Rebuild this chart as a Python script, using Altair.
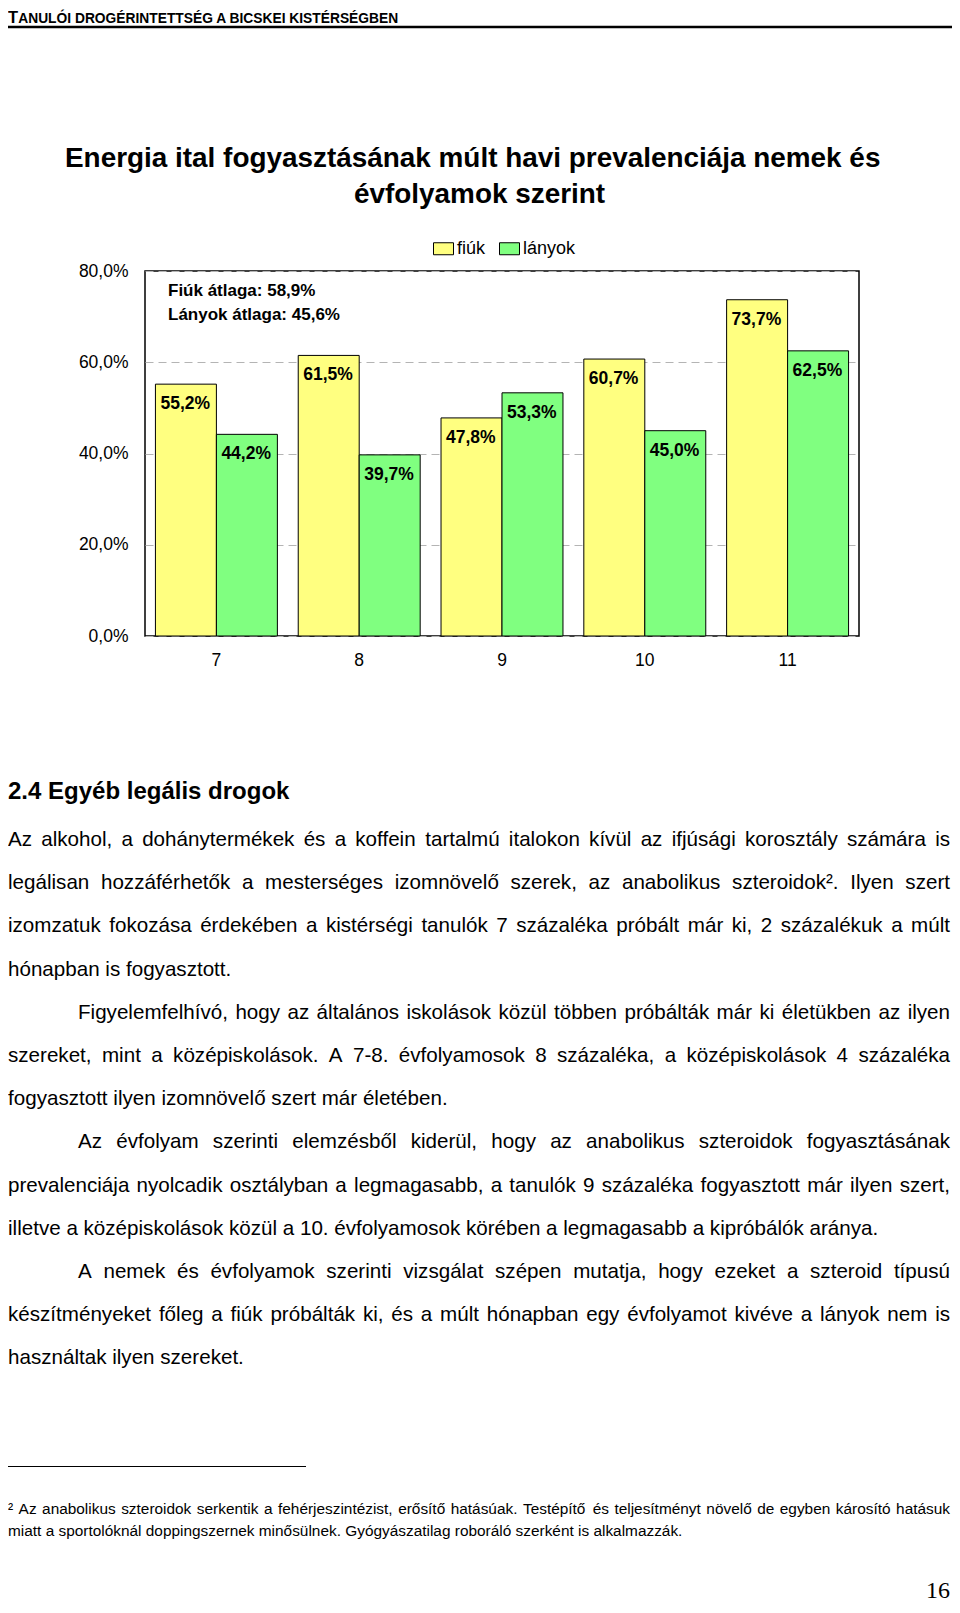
import altair as alt
import pandas as pd

# ---------------- data ----------------
grades = ["7", "8", "9", "10", "11"]
boys = [55.2, 61.5, 47.8, 60.7, 73.7]
girls = [44.2, 39.7, 53.3, 45.0, 62.5]
genders = ["fiúk", "lányok"]
gender_colors = ["#FFFF80", "#80FF80"]
y_ticks = [0, 20, 40, 60, 80]

header_first = "T"
header_rest = "ANULÓI DROGÉRINTETTSÉG A BICSKEI KISTÉRSÉGBEN"
title_lines = [
    "Energia ital fogyasztásának múlt havi prevalenciája nemek és",
    "évfolyamok szerint",
]
average_lines = ["Fiúk átlaga: 58,9%", "Lányok átlaga: 45,6%"]
section_title = "2.4 Egyéb legális drogok"
body_lines = [
    "Az alkohol, a dohánytermékek és a koffein tartalmú italokon kívül az ifjúsági korosztály számára is",
    "legálisan hozzáférhetők a mesterséges izomnövelő szerek, az anabolikus szteroidok². Ilyen szert",
    "izomzatuk fokozása érdekében a kistérségi tanulók 7 százaléka próbált már ki, 2 százalékuk a múlt",
    "hónapban is fogyasztott.",
    "Figyelemfelhívó, hogy az általános iskolások közül többen próbálták már ki életükben az ilyen",
    "szereket, mint a középiskolások. A 7-8. évfolyamosok 8 százaléka, a középiskolások 4 százaléka",
    "fogyasztott ilyen izomnövelő szert már életében.",
    "Az évfolyam szerinti elemzésből kiderül, hogy az anabolikus szteroidok fogyasztásának",
    "prevalenciája nyolcadik osztályban a legmagasabb, a tanulók 9 százaléka fogyasztott már ilyen szert,",
    "illetve a középiskolások közül a 10. évfolyamosok körében a legmagasabb a kipróbálók aránya.",
    "A nemek és évfolyamok szerinti vizsgálat szépen mutatja, hogy ezeket a szteroid típusú",
    "készítményeket főleg a fiúk próbálták ki, és a múlt hónapban egy évfolyamot kivéve a lányok nem is",
    "használtak ilyen szereket.",
]
body_justified = [True, True, True, False, True, True, False, True, True, False, True, True, False]
body_indented = [False, False, False, False, True, False, False, True, False, False, True, False, False]
footnote_lines = [
    "² Az anabolikus szteroidok serkentik a fehérjeszintézist, erősítő hatásúak. Testépítő és teljesítményt növelő de egyben károsító hatásuk",
    "miatt a sportolóknál doppingszernek minősülnek. Gyógyászatilag roboráló szerként is alkalmazzák.",
]
footnote_justified = [True, False]
page_number = "16"

# ---------------- layout ----------------
SANS = "Liberation Sans, Arial, sans-serif"
SERIF = "Liberation Serif, Times New Roman, serif"

OX, OY = 145, 271          # page position of plot origin
W, H = 714, 365            # plot area
PAGE_W, PAGE_H = 944, 1597
RIGHT = 950                # right text edge on page

# Arial / Liberation Sans regular advance widths (per 1000 em)
AR = {' ': 278, '%': 889, ',': 278, '-': 333, '.': 278, ':': 278, '²': 333}
for d in "0123456789":
    AR[d] = 556
AR.update({'A': 667, 'B': 667, 'C': 722, 'D': 722, 'E': 667, 'F': 611, 'G': 778, 'H': 722,
           'I': 278, 'J': 500, 'K': 667, 'L': 556, 'M': 833, 'N': 722, 'O': 778, 'P': 667,
           'R': 722, 'S': 667, 'T': 611, 'U': 722, 'V': 667, 'Z': 611})
AR.update({'a': 556, 'b': 556, 'c': 500, 'd': 556, 'e': 556, 'f': 278, 'g': 556, 'h': 556,
           'i': 222, 'j': 222, 'k': 500, 'l': 222, 'm': 833, 'n': 556, 'o': 556, 'p': 556,
           'q': 556, 'r': 333, 's': 500, 't': 278, 'u': 556, 'v': 500, 'w': 722, 'x': 500,
           'y': 500, 'z': 500, 'á': 556, 'é': 556, 'í': 278, 'ó': 556, 'ö': 556, 'ő': 556,
           'ú': 556, 'ü': 556, 'ű': 556, 'É': 667, 'Ó': 778, 'Ö': 778})


def text_width(s, size):
    return sum(AR.get(c, 556) for c in s) * size / 1000.0


def layout_words(lines, justified, indented, x_left, x_right, base0, step, size, indent):
    rows = []
    for i, line in enumerate(lines):
        y = base0 + i * step
        x0 = x_left + (indent if indented[i] else 0)
        words = line.split(" ")
        if justified[i] and len(words) > 1:
            glyphs = sum(text_width(w, size) for w in words)
            gap = (x_right - x0 - glyphs) / (len(words) - 1)
        else:
            gap = text_width(" ", size)
        x = x0
        for w in words:
            rows.append({"t": w, "x": x - OX, "y": y - OY})
            x += text_width(w, size) + gap
    return rows


def text_layer(rows, size, weight="normal", font=SANS, align="left"):
    df = pd.DataFrame(rows, columns=["t", "x", "y"])
    return alt.Chart(df).mark_text(
        align=align, baseline="alphabetic", fontSize=size, fontWeight=weight,
        font=font, color="black"
    ).encode(
        x=alt.X("x:Q", scale=None, axis=None),
        y=alt.Y("y:Q", scale=None, axis=None),
        text="t:N",
    )


def page_text(s, px, py):
    return {"t": s, "x": px - OX, "y": py - OY}


def hrule(x1, x2, py, width):
    return alt.Chart(pd.DataFrame({"a": [0]})).mark_rule(color="black", strokeWidth=width).encode(
        x=alt.value(x1 - OX), x2=alt.value(x2 - OX), y=alt.value(py - OY)
    )


# ---------------- bar chart ----------------
bars_df = pd.DataFrame({
    "grade": grades * 2,
    "gender": [genders[0]] * len(grades) + [genders[1]] * len(grades),
    "value": boys + girls,
})
bars_df["label"] = bars_df["value"].map(lambda v: f"{v:.1f}".replace(".", ",") + "%")

x_enc = alt.X(
    "grade:N", sort=grades,
    scale=alt.Scale(paddingInner=0.146, paddingOuter=0.073),
    axis=alt.Axis(title=None, labelAngle=0, ticks=False, domain=False, labelPadding=15,
                  labelFontSize=17.5, labelFont=SANS, labelColor="black"),
)
xoff = alt.XOffset("gender:N", sort=genders, scale=alt.Scale(paddingInner=0, paddingOuter=0))
y_enc = alt.Y(
    "value:Q",
    scale=alt.Scale(domain=[0, 80], nice=False, zero=True),
    axis=alt.Axis(title=None, values=y_ticks,
                  labelExpr="replace(format(datum.value, '.1f'), '.', ',') + '%'",
                  ticks=False, domain=False, grid=True, gridDash=[8, 5], gridColor="#b4b4b4",
                  gridWidth=1, labelPadding=17, labelFontSize=17.5, labelFont=SANS,
                  labelColor="black"),
)
fill_enc = alt.Fill(
    "gender:N", sort=genders,
    scale=alt.Scale(domain=genders, range=gender_colors),
    legend=alt.Legend(title=None, orient="none", legendX=288, legendY=-33,
                      direction="horizontal", symbolType="M-1,-0.6L1,-0.6L1,0.6L-1,0.6Z",
                      symbolSize=400, symbolStrokeColor="black", symbolStrokeWidth=1,
                      symbolOpacity=1, labelFontSize=18, labelFont=SANS, labelColor="black",
                      labelOffset=3, columnPadding=11, padding=0),
)

bars = alt.Chart(bars_df).mark_bar(stroke="black", strokeWidth=1, fillOpacity=1).encode(
    x=x_enc, xOffset=xoff, y=y_enc, fill=fill_enc
)
bar_labels = alt.Chart(bars_df).mark_text(
    align="left", baseline="alphabetic", dx=-25.5, dy=25, fontSize=17.5,
    fontWeight="bold", font=SANS, color="black"
).encode(x=x_enc, xOffset=xoff, y=y_enc, text="label:N")

# ---------------- page texts ----------------
layers = [bars, bar_labels]
layers.append(text_layer([page_text(header_first, 8, 23)], 16.5, "bold"))
layers.append(text_layer([page_text(header_rest, 18.2, 23)], 13.8, "bold"))
layers.append(hrule(8, 952, 27, 2.5))
layers.append(text_layer([page_text(title_lines[0], 65, 166.5),
                          page_text(title_lines[1], 354, 203)], 27.9, "bold"))
layers.append(text_layer([page_text(average_lines[0], 168, 296),
                          page_text(average_lines[1], 168, 320)], 17, "bold"))
layers.append(text_layer([page_text(section_title, 8, 799)], 24, "bold"))
layers.append(text_layer(layout_words(body_lines, body_justified, body_indented,
                                      8, RIGHT, 846, 43.2, 20.6, 70), 20.6))
layers.append(hrule(8, 306, 1466.5, 1))
layers.append(text_layer(layout_words(footnote_lines, footnote_justified, [False, False],
                                      8, RIGHT, 1514, 21.5, 15.4, 0), 15.4))
layers.append(text_layer([page_text(page_number, 950, 1598)], 24, "normal", SERIF, "right"))

chart = alt.layer(*layers).properties(
    width=W, height=H,
    autosize=alt.AutoSizeParams(type="none"),
    padding={"left": OX - 8, "top": OY - 8, "right": PAGE_W - (OX - 8) - W,
             "bottom": PAGE_H - (OY - 8) - H},
    background="white",
).configure_view(stroke="black", strokeWidth=1.5)

chart.save("out.html", embed_options={"renderer": "svg", "actions": False})
